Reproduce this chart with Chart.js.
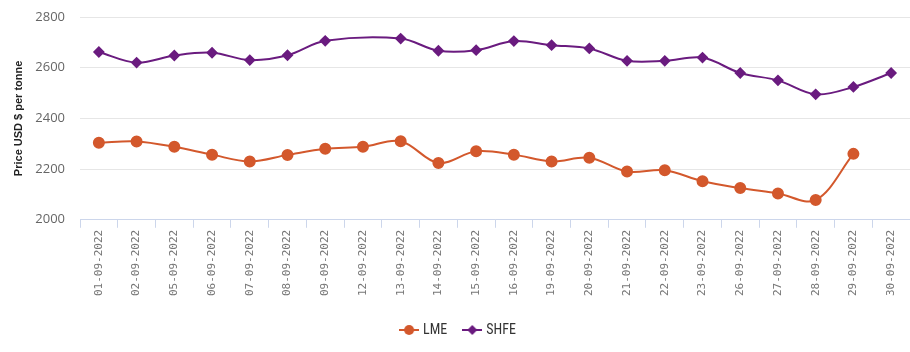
<!DOCTYPE html>
<html>
<head>
<meta charset="utf-8">
<script src="https://cdn.jsdelivr.net/npm/chart.js@4"></script>
<style>
  html, body { margin: 0; padding: 0; background: #fff; }
  #wrap { width: 910px; height: 352px; }
</style>
</head>
<body>
<div id="wrap"><canvas id="Precios"></canvas></div>
<script>
const fechas = ['01-09-2022','02-09-2022','05-09-2022','06-09-2022','07-09-2022','08-09-2022','09-09-2022','12-09-2022','13-09-2022','14-09-2022','15-09-2022','16-09-2022','19-09-2022','20-09-2022','21-09-2022','22-09-2022','23-09-2022','26-09-2022','27-09-2022','28-09-2022','29-09-2022','30-09-2022'];
const lme = [2304, 2309, 2288, 2257, 2230, 2256, 2280, 2288, 2310, 2224, 2270, 2257, 2230, 2245, 2190, 2195, 2152, 2125, 2104, 2078, 2260, null];
const shfe = [2662, 2620, 2648, 2659, 2630, 2649, 2706, null, 2715, 2667, 2669, 2705, 2689, 2676, 2627, 2627, 2640, 2579, 2550, 2495, 2524, 2579];
const yTicks = [2000, 2200, 2400, 2600, 2800];

const colorLme = 'rgb(211, 88, 44)';
const colorShfe = 'rgb(106, 27, 127)';

function iconoLeyenda(color, tipo) {
  const c = document.createElement('canvas');
  c.width = 20; c.height = 12;
  const g = c.getContext('2d');
  g.strokeStyle = color; g.lineWidth = 2;
  g.beginPath(); g.moveTo(0, 6); g.lineTo(20, 6); g.stroke();
  g.fillStyle = color;
  g.beginPath();
  if (tipo == 'circle') {
    g.arc(10, 6, 5, 0, Math.PI * 2);
  } else {
    g.moveTo(10, 1); g.lineTo(15, 6); g.lineTo(10, 11); g.lineTo(5, 6); g.closePath();
  }
  g.fill();
  return c;
}

const ctx = document.getElementById('Precios').getContext('2d');
const myChart = new Chart(ctx, {
  type: 'line',
  data: {
    labels: fechas,
    datasets: [{
      label: 'LME',
      data: lme,
      borderColor: colorLme,
      backgroundColor: colorLme,
      borderWidth: 2,
      pointStyle: 'circle',
      pointRadius: 5,
      pointHoverRadius: 5,
      tension: 0.35,
      spanGaps: true
    }, {
      label: 'SHFE',
      data: shfe,
      borderColor: colorShfe,
      backgroundColor: colorShfe,
      borderWidth: 2,
      pointStyle: 'rectRot',
      pointRadius: 4.5,
      pointHoverRadius: 4.5,
      tension: 0.35,
      spanGaps: true
    }]
  },
  options: {
    responsive: true,
    maintainAspectRatio: false,
    animation: false,
    layout: { autoPadding: false, padding: { left: 8, right: 0, top: 0, bottom: 5 } },
    plugins: {
      legend: {
        position: 'bottom',
        labels: {
          usePointStyle: true,
          boxWidth: 20,
          padding: 18,
          color: '#333',
          font: { family: 'Roboto Condensed, Liberation Sans Narrow, Roboto, sans-serif', size: 14 },
          generateLabels: function(chart) {
            const iconos = [iconoLeyenda(colorLme, 'circle'), iconoLeyenda(colorShfe, 'diamond')];
            return chart.data.datasets.map(function(ds, i) {
              return {
                text: ds.label,
                fillStyle: ds.borderColor,
                strokeStyle: ds.borderColor,
                fontColor: '#333',
                pointStyle: iconos[i],
                hidden: false,
                datasetIndex: i
              };
            });
          }
        }
      },
      tooltip: { enabled: false }
    },
    scales: {
      x: {
        offset: true,
        afterFit: function(axis) {
          axis.height = axis.height + 7;
        },
        grid: {
          offset: true,
          drawOnChartArea: false,
          tickLength: 8,
          color: '#ccd6eb'
        },
        border: { color: '#ccd6eb' },
        ticks: {
          minRotation: 90,
          maxRotation: 90,
          autoSkip: false,
          padding: 2,
          color: '#777',
          font: { family: 'DejaVu Sans Mono, monospace', size: 11 }
        }
      },
      y: {
        min: 2000,
        max: 2800,
        afterBuildTicks: function(axis) {
          axis.ticks = yTicks.map(function(v) { return { value: v }; });
        },
        afterFit: function(axis) {
          axis.width = 72;
          axis.paddingTop = 17;
          axis.paddingBottom = 0;
        },
        grid: { color: '#e6e6e6', drawTicks: false },
        border: { display: false },
        ticks: {
          padding: 15,
          color: '#666',
          font: { family: 'Open Sans, sans-serif', size: 13 },
          callback: function(v) { return String(v); }
        },
        title: {
          display: true,
          text: 'Price USD $ per tonne',
          color: '#222',
          font: { family: 'Liberation Sans, sans-serif', size: 11, weight: 'bold' }
        }
      }
    }
  }
});
</script>
</body>
</html>
